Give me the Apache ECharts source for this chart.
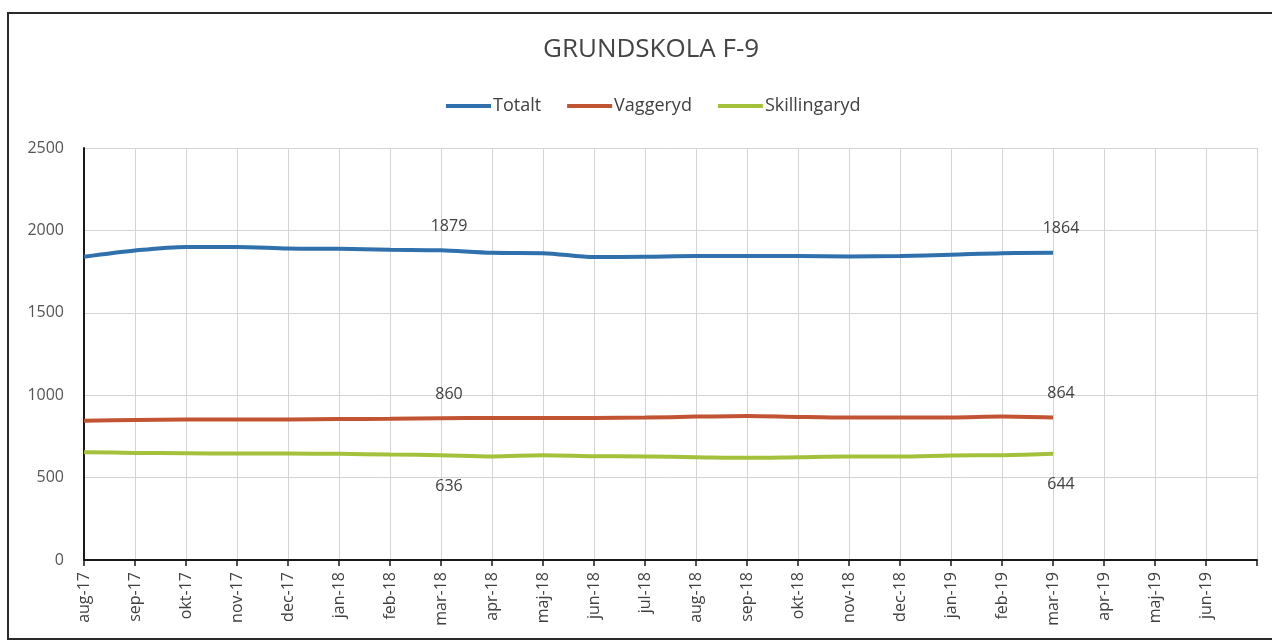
<!DOCTYPE html>
<html>
<head>
<meta charset="utf-8">
<script src="https://cdn.jsdelivr.net/npm/echarts@6/dist/echarts.min.js"></script>
<style>
  html, body { margin: 0; padding: 0; background: #fff; }
  #chart { width: 1272px; height: 642px; }
</style>
</head>
<body>
<div id="chart"></div>
<script>
// month labels on the x axis (last slot is the axis end, no label)
var months = ['aug-17', 'sep-17', 'okt-17', 'nov-17', 'dec-17', 'jan-18', 'feb-18', 'mar-18',
              'apr-18', 'maj-18', 'jun-18', 'jul-18', 'aug-18', 'sep-18', 'okt-18', 'nov-18',
              'dec-18', 'jan-19', 'feb-19', 'mar-19', 'apr-19', 'maj-19', 'jun-19', ''];

var totalt = [1840, 1878, 1900, 1900, 1890, 1888, 1882, 1879, 1864, 1862,
              1838, 1840, 1844, 1844, 1844, 1842, 1844, 1852, 1862, 1864];
var vaggeryd = [845, 850, 852, 852, 853, 855, 857, 860, 862, 862,
                862, 864, 870, 874, 868, 864, 864, 864, 870, 864];
var skillingaryd = [654, 650, 648, 646, 646, 644, 640, 636, 628, 636,
                    630, 628, 624, 620, 624, 628, 628, 634, 636, 644];

// indexes where Excel shows a data label (mar-18, mar-19)
var labelled = [7, 19];

var font = '"Open Sans", "Liberation Sans", sans-serif';

function withLabels(values, position) {
  return values.map(function (v, i) {
    if (labelled.indexOf(i) < 0) return v;
    return {
      value: v,
      label: {
        show: true,
        position: position,
        distance: position === 'top' ? 16 : 23,
        offset: [8, 0],
        color: '#404040',
        fontSize: 16,
        fontFamily: font
      }
    };
  });
}

function lineSeries(name, color, values, pos) {
  return {
    name: name,
    type: 'line',
    smooth: 0.3,
    showSymbol: true,
    showAllSymbol: true,
    symbol: 'circle',
    symbolSize: 0,
    lineStyle: { width: 4, color: color },
    itemStyle: { color: color },
    data: withLabels(values, pos)
  };
}

var chart = echarts.init(document.getElementById('chart'));

var option = {
  animation: false,
  backgroundColor: '#fff',
  title: {
    text: 'GRUNDSKOLA F-9',
    left: 538,
    top: 32,
    textStyle: { fontFamily: font, fontSize: 26, fontWeight: 'normal', color: '#444' }
  },
  legend: {
    top: 92,
    left: 441,
    icon: 'rect',
    itemWidth: 45,
    itemHeight: 4,
    itemGap: 26,
    textStyle: { fontFamily: font, fontSize: 18, color: '#404040', padding: [0, 0, 0, -3] },
    data: ['Totalt', 'Vaggeryd', 'Skillingaryd']
  },
  graphic: [{
    type: 'rect',
    shape: { x: 8, y: 13, width: 1400, height: 626 },
    style: { fill: null, stroke: '#2a2a2a', lineWidth: 2 },
    silent: true
  }],
  grid: { left: 84, right: 15, top: 148, bottom: 82 },
  xAxis: {
    type: 'category',
    boundaryGap: false,
    data: months,
    axisLine: { show: true, lineStyle: { color: '#1a1a1a', width: 2 } },
    axisTick: { show: true, length: 6, lineStyle: { color: '#1a1a1a', width: 1.5 } },
    axisLabel: {
      rotate: 90,
      interval: 0,
      margin: 12,
      fontFamily: font,
      fontSize: 16,
      color: '#404040'
    },
    splitLine: { show: true, lineStyle: { color: '#d4d4d4', width: 1 } }
  },
  yAxis: {
    type: 'value',
    min: 0,
    max: 2500,
    interval: 500,
    axisLine: { show: true, lineStyle: { color: '#1a1a1a', width: 2 } },
    axisTick: { show: false },
    axisLabel: {
      margin: 20,
      fontFamily: font,
      fontSize: 16,
      color: '#555',
      formatter: function (v) { return String(v); }
    },
    splitLine: { show: true, lineStyle: { color: '#d4d4d4', width: 1 } }
  },
  series: [
    lineSeries('Totalt', '#2f70ad', totalt, 'top'),
    lineSeries('Vaggeryd', '#c25433', vaggeryd, 'top'),
    lineSeries('Skillingaryd', '#a4c13c', skillingaryd, 'bottom')
  ]
};

chart.setOption(option);
</script>
</body>
</html>
